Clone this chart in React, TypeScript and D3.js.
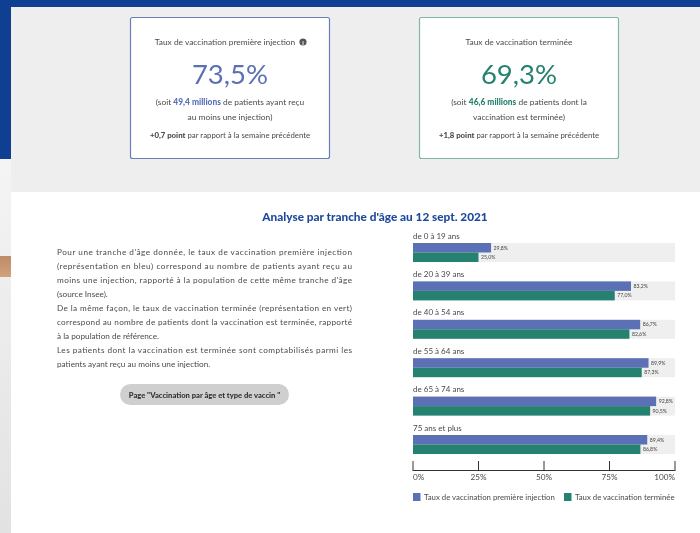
import React from "react";
import * as d3 from "d3";

const ageGroups = ["de 0 à 19 ans", "de 20 à 39 ans", "de 40 à 54 ans", "de 55 à 64 ans", "de 65 à 74 ans", "75 ans et plus"];
const firstDose = [29.8, 83.2, 86.7, 89.9, 92.8, 89.4];
const completed = [25.0, 77.0, 82.6, 87.3, 90.5, 86.8];
const ticks = [0, 25, 50, 75, 100];
const paragraph = [
  "Pour une tranche d'âge donnée, le taux de vaccination première injection",
  "(représentation en bleu) correspond au nombre de patients ayant reçu au",
  "moins une injection, rapporté à la population de cette même tranche d'âge",
  "(source Insee).",
  "De la même façon, le taux de vaccination terminée (représentation en vert)",
  "correspond au nombre de patients dont la vaccination est terminée, rapporté",
  "à la population de référence.",
  "Les patients dont la vaccination est terminée sont comptabilisés parmi les",
  "patients ayant reçu au moins une injection.",
];
const justified = [true, true, true, false, true, true, false, true, false];

const BLUE = "#5b70b5";
const GREEN = "#288270";
const TEXT = "#4a4a4a";
const FONT = "Lato, sans-serif";

const x = d3.scaleLinear().domain([0, 100]).range([413, 675]);
const y = d3.scalePoint<string>().domain(ageGroups).range([243, 435]);
const trackH = 19;

function Card({ cx, left, color, border, title, big, line1Bold, line1Rest, line2, delta, info }: any) {
  return (
    <g>
      <rect x={left} y={17.5} width={199} height={141} rx={2} fill="#fff" stroke={border} strokeWidth={1.2} />
      <text x={cx - (info ? 5 : 0)} y={45} textAnchor="middle" fontSize={8.4} fill={TEXT}>{title}</text>
      {info && (
        <g>
          <circle cx={303} cy={42} r={3.6} fill="#555" />
          <text x={303} y={44.5} textAnchor="middle" fontSize={6} fontWeight={700} fill="#fff">i</text>
        </g>
      )}
      <text x={cx} y={83.5} textAnchor="middle" fontSize={27.5} fill={color}>{big}</text>
      <text x={cx} y={105} textAnchor="middle" fontSize={8.4} fill={TEXT}>
        (soit <tspan fontWeight={900} fill={color}>{line1Bold}</tspan> {line1Rest}
      </text>
      <text x={cx} y={119.5} textAnchor="middle" fontSize={8.4} fill={TEXT}>{line2}</text>
      <text x={cx} y={138} textAnchor="middle" fontSize={7.8} fill={TEXT}>
        <tspan fontWeight={900}>{delta}</tspan> par rapport à la semaine précédente
      </text>
    </g>
  );
}

export default function App() {
  return (
    <svg
      width={700}
      height={533}
      viewBox="0 0 700 533"
      style={{ position: "absolute", left: 0, top: 0, display: "block" }}
      fontFamily={FONT}
    >
      <defs>
        <filter id="soft" x="0" y="0" width="100%" height="100%">
          <feGaussianBlur stdDeviation="0.3" />
        </filter>
        <linearGradient id="strip" x1="0" y1="0" x2="0" y2="1">
          <stop offset="0" stopColor="#f4f4f4" />
          <stop offset="1" stopColor="#e2e2e2" />
        </linearGradient>
        <linearGradient id="brown" x1="0" y1="0" x2="0" y2="1">
          <stop offset="0" stopColor="#bd8c66" />
          <stop offset="1" stopColor="#cfa27e" />
        </linearGradient>
      </defs>
      <rect x={0} y={0} width={700} height={533} fill="#ffffff" />
      <rect x={0} y={159} width={11} height={374} fill="url(#strip)" />
      <rect x={0} y={256} width={11} height={21} fill="url(#brown)" />
      <rect x={11} y={7} width={689} height={185} fill="#eeeeee" />
      <rect x={0} y={0} width={700} height={7} fill="#0e3f93" />
      <rect x={0} y={0} width={11} height={159} fill="#0e3f93" />

      <g filter="url(#soft)">
        <Card cx={230} left={130.5} color={BLUE} border="#6b7dbd" title="Taux de vaccination première injection" big="73,5%"
          line1Bold="49,4 millions" line1Rest="de patients ayant reçu" line2="au moins une injection)" delta="+0,7 point" info />
        <Card cx={519} left={419.5} color={GREEN} border="#7fb5aa" title="Taux de vaccination terminée" big="69,3%"
          line1Bold="46,6 millions" line1Rest="de patients dont la" line2="vaccination est terminée)" delta="+1,8 point" />

        <text x={375} y={221} textAnchor="middle" fontSize={11.8} fontWeight={900} fill="#1e4a9c">Analyse par tranche d'âge au 12 sept. 2021</text>

        {paragraph.map((line, i) => (
          <text key={i} x={57} y={255 + i * 13.95} fontSize={8.2} fill={TEXT}
            textLength={justified[i] ? 295 : undefined} lengthAdjust="spacing">{line}</text>
        ))}

        <rect x={120} y={384} width={169} height={21} rx={10.5} fill="#cfcfcf" />
        <text x={204.5} y={398} textAnchor="middle" fontSize={7.6} fontWeight={900} fill="#333">Page "Vaccination par âge et type de vaccin "</text>

        {ageGroups.map((g, i) => {
          const top = y(g) as number;
          const h = trackH / 2;
          return (
            <g key={g}>
              <text x={413} y={top - 4.5} fontSize={8} fill={TEXT}>{g}</text>
              <rect x={x(0)} y={top} width={x(100) - x(0)} height={trackH} fill="#efefef" />
              <rect x={x(0)} y={top} width={x(firstDose[i]) - x(0)} height={h} fill={BLUE} />
              <rect x={x(0)} y={top + h} width={x(completed[i]) - x(0)} height={h} fill={GREEN} />
              <text x={x(firstDose[i]) + 2.5} y={top + h / 2 + 1.8} fontSize={5.2} fill="#444">{firstDose[i].toFixed(1).replace(".", ",")}%</text>
              <text x={x(completed[i]) + 2.5} y={top + h + h / 2 + 1.8} fontSize={5.2} fill="#444">{completed[i].toFixed(1).replace(".", ",")}%</text>
            </g>
          );
        })}

        <line x1={x(0)} x2={x(100)} y1={470.5} y2={470.5} stroke="#333" strokeWidth={1} />
        {ticks.map((t) => (
          <g key={t}>
            <line x1={x(t)} x2={x(t)} y1={461} y2={471} stroke="#333" strokeWidth={1} />
            <text x={x(t)} y={480} fontSize={8.2} fill={TEXT}
              textAnchor={t === 0 ? "start" : t === 100 ? "end" : "middle"}>{t}%</text>
          </g>
        ))}

        <rect x={413} y={493} width={7.5} height={8} fill={BLUE} />
        <text x={424} y={500} fontSize={7.8} fill={TEXT}>Taux de vaccination première injection</text>
        <rect x={564} y={493} width={7.5} height={8} fill={GREEN} />
        <text x={575} y={500} fontSize={7.8} fill={TEXT}>Taux de vaccination terminée</text>
      </g>
    </svg>
  );
}
